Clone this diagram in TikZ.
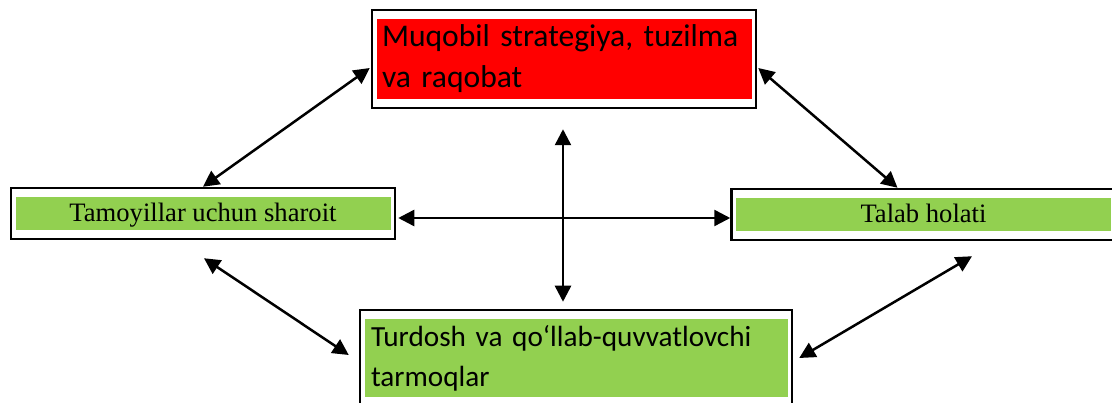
\documentclass[tikz,border=0pt]{standalone}
\usepackage{fontspec}
\setmainfont{Liberation Serif}
\newfontfamily\boxfont{Carlito}
\usepackage{tikz}
\usetikzlibrary{arrows.meta, calc}

\definecolor{boxred}{HTML}{FF0000}
\definecolor{boxgreen}{HTML}{92D050}

\tikzset{
    factor/.style={draw, line width=2.5pt, inner sep=0pt,
        path picture={\fill[#1] ($(path picture bounding box.north west) + (4.5, 9)$) rectangle ($(path picture bounding box.south east) + (-4.5, -9)$);}},
    link/.style={line width=2.5pt, {Triangle[length=16pt, width=16pt]}-{Triangle[length=16pt, width=16pt]}}
}

\begin{document}
\begin{tikzpicture}[x=1pt, y=-1pt]

%%Paramaters
%% box sizes, can be modified
\def\sideWidth{384pt}
\def\sideHeight{51pt}

\useasboundingbox (0, 0) rectangle (1112, 403);


    \node[factor=boxred, minimum width=384pt, minimum height=98pt, align=left, text width=364pt,
          font=\boxfont\fontsize{31.6}{41}\selectfont] at (564, 59) (rivalry) {Muqobil strategiya, tuzilma\\va raqobat};

    \node[factor=boxgreen, minimum width=\sideWidth, minimum height=\sideHeight, text height=19pt, text depth=2.6pt,
          font=\fontsize{26.6}{32}\selectfont] at (203, 213.5) (factorCond) {Tamoyillar uchun sharoit};

    \node[factor=boxgreen, minimum width=\sideWidth, minimum height=\sideHeight, text height=19pt, text depth=2.6pt,
          font=\fontsize{26.6}{32}\selectfont] at (923.5, 214.5) (demandCond) {Talab holati};

    \node[factor=boxgreen, minimum width=432pt, minimum height=96pt, align=left, text width=410pt,
          font=\boxfont\fontsize{29.2}{40}\selectfont] at (576, 358) (relatedInd) {Turdosh va qo‘llab-quvvatlovchi\\tarmoqlar};


    %% links between the boxes

        \draw[link] ($(rivalry.west) + (-1, 9)$) -- (factorCond.north);
        \draw[link] ($(rivalry.east) + (1, 9)$) -- ($(demandCond.north) + (-26, 0)$);

        \draw[link] ($(factorCond.east) + (2, 4.5)$) -- ($(demandCond.west) + (0, 3.5)$);
        \draw[link] ($(rivalry.south) + (-1, 20)$) -- ($(relatedInd.north) + (-13, -7)$);

        \draw[link] ($(factorCond.south) + (1, 18)$) -- ($(relatedInd.west) + (-10, -3)$);
        \draw[link] ($(demandCond.south) + (48.5, 15)$) -- ($(relatedInd.east) + (6, 0)$);


\end{tikzpicture}
\end{document}
